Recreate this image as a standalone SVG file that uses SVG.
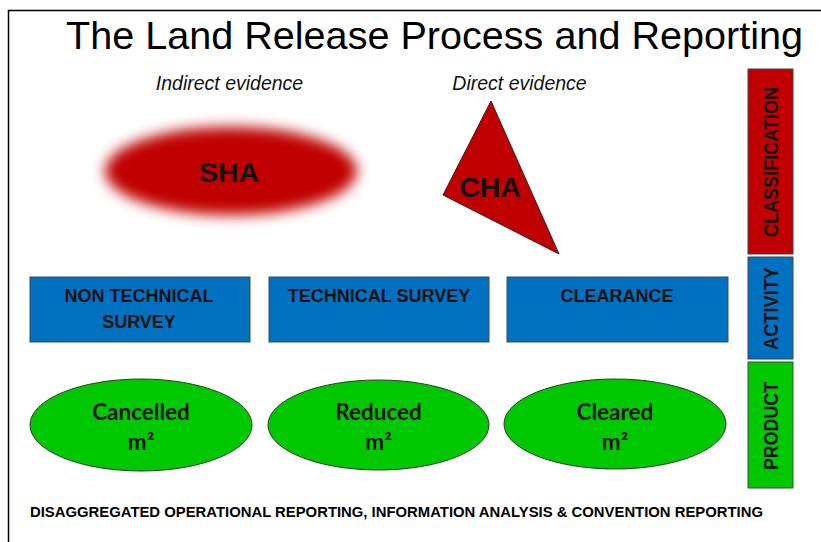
<svg xmlns="http://www.w3.org/2000/svg" width="821" height="542" viewBox="0 0 821 542">
<style>
.hd{font-family:"Liberation Sans",Arial,sans-serif;fill:#000}
.ital{font-family:"Liberation Sans",Arial,sans-serif;font-style:italic;font-size:19.5px;fill:#111}
.big{font-family:"Liberation Sans",Arial,sans-serif;font-weight:bold;font-size:28.5px;fill:#111}
.box{fill:#0070C0;stroke:#3a4a5a;stroke-width:1}
.btx{font-family:"Liberation Sans",Arial,sans-serif;font-weight:bold;font-size:18px;fill:#111;text-anchor:middle}
.ell{fill:#00C800;stroke:#2a3a2a;stroke-width:1}
.etx{font-family:Lato,"Open Sans",sans-serif;font-weight:bold;font-size:22.5px;fill:#111;text-anchor:middle}
.bar{stroke:#444;stroke-width:1}
.vtx{font-family:"Liberation Sans",Arial,sans-serif;font-weight:bold;font-size:20px;fill:#111;text-anchor:middle}
</style>
<defs>
<filter id="blur" x="-20%" y="-40%" width="140%" height="180%">
<feGaussianBlur stdDeviation="7"/>
</filter>
</defs>
<rect width="821" height="542" fill="#fff"/>
<path d="M8.5,560 V10.5 H840" fill="none" stroke="#000" stroke-width="1.5"/>
<text class="hd" x="434.5" y="49" font-size="39.6" text-anchor="middle" textLength="737" lengthAdjust="spacingAndGlyphs">The Land Release Process and Reporting</text>

<g id="sha">
<text class="ital" x="229.5" y="90" text-anchor="middle">Indirect evidence</text>
<ellipse cx="231" cy="171" rx="126" ry="44" fill="#C00000" filter="url(#blur)"/>
<text class="big" x="229" y="182" text-anchor="middle">SHA</text>
</g>

<g id="cha">
<text class="ital" x="519.5" y="90" text-anchor="middle">Direct evidence</text>
<polygon points="491,101 443,195 559,254" fill="#C00000" stroke="#3a1a1a" stroke-width="1"/>
<text class="big" x="490" y="197" text-anchor="middle">CHA</text>
</g>

<g id="nts">
<rect class="box" x="30" y="277" width="220" height="65"/>
<text class="btx" x="139" y="302">NON TECHNICAL</text>
<text class="btx" x="139" y="328">SURVEY</text>
</g>
<g id="ts">
<rect class="box" x="269" y="277" width="220" height="65"/>
<text class="btx" x="379" y="302">TECHNICAL SURVEY</text>
</g>
<g id="clearance">
<rect class="box" x="507" y="277" width="221" height="65"/>
<text class="btx" x="617" y="302">CLEARANCE</text>
</g>

<g id="cancelled">
<ellipse class="ell" cx="141" cy="425" rx="111" ry="46"/>
<text class="etx" x="141" y="420">Cancelled</text>
<text class="etx" x="141" y="450">m²</text>
</g>
<g id="reduced">
<ellipse class="ell" cx="378.5" cy="425" rx="110.5" ry="45"/>
<text class="etx" x="378.5" y="420">Reduced</text>
<text class="etx" x="378.5" y="450">m²</text>
</g>
<g id="cleared">
<ellipse class="ell" cx="615" cy="424" rx="111" ry="45"/>
<text class="etx" x="615" y="420">Cleared</text>
<text class="etx" x="615" y="450">m²</text>
</g>

<g id="classification">
<rect class="bar" x="748" y="69" width="45" height="185" fill="#C00000"/>
<text class="vtx" transform="translate(778,162) rotate(-90)" textLength="150" lengthAdjust="spacingAndGlyphs">CLASSIFICATION</text>
</g>
<g id="activity">
<rect class="bar" x="748" y="257" width="45" height="102" fill="#0070C0"/>
<text class="vtx" transform="translate(778,308.5) rotate(-90)" textLength="83" lengthAdjust="spacingAndGlyphs">ACTIVITY</text>
</g>
<g id="product">
<rect class="bar" x="748" y="362" width="45" height="126" fill="#00C800"/>
<text class="vtx" transform="translate(778,426) rotate(-90)" textLength="88" lengthAdjust="spacingAndGlyphs">PRODUCT</text>
</g>

<g id="connectors"/>

<text class="hd" x="30" y="517" font-size="14" font-weight="bold" textLength="733" lengthAdjust="spacingAndGlyphs">DISAGGREGATED OPERATIONAL REPORTING, INFORMATION ANALYSIS &amp; CONVENTION REPORTING</text>
</svg>
